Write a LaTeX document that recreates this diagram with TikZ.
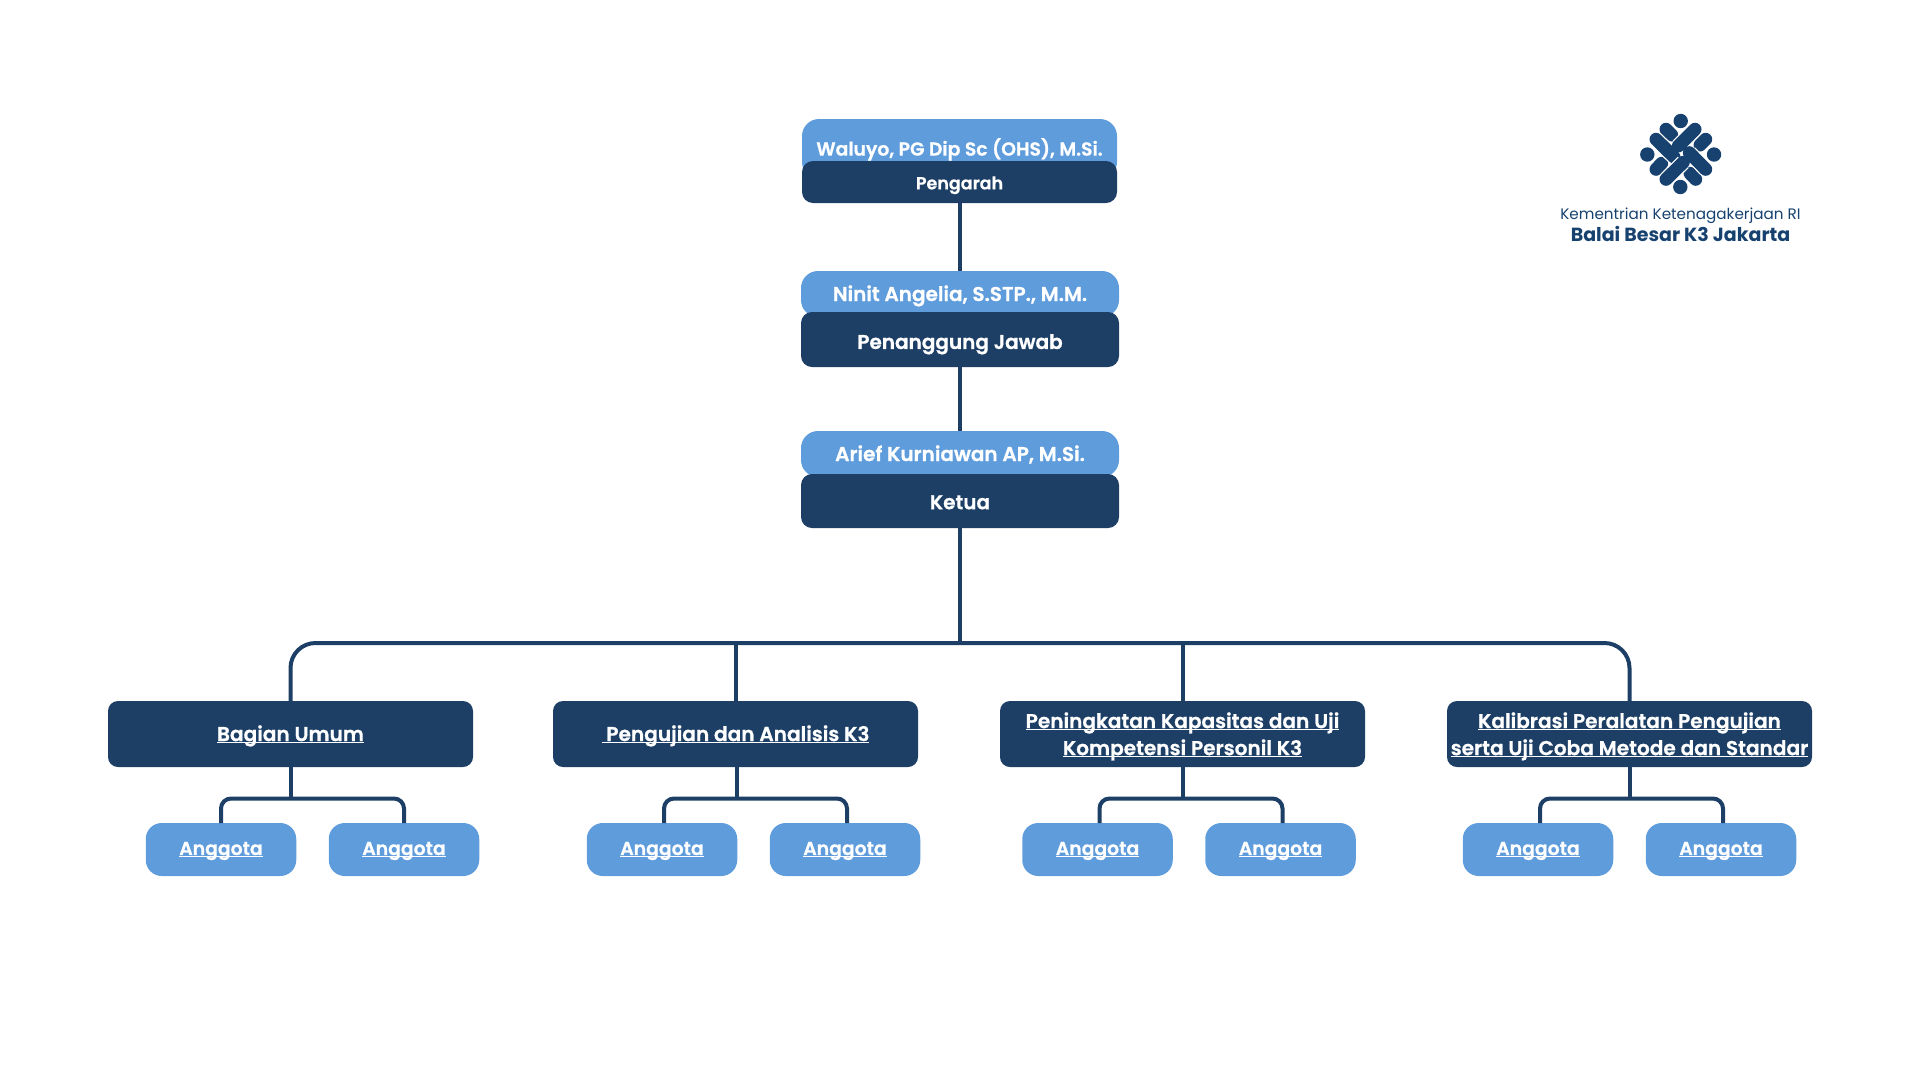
\documentclass[tikz,border=0pt]{standalone}
\usepackage{fontspec}
\setmainfont{Poppins}[BoldFont={Poppins SemiBold}, BoldFeatures={FakeBold=0.8}]
\newfontface\logobold{Poppins Bold}
\usepackage{xcolor}
\definecolor{navy-card}{HTML}{1D3F66}
\definecolor{sky-card}{HTML}{5F9CDC}
\definecolor{logo-blue}{HTML}{17426F}
\usepackage{tikz}
\usetikzlibrary{positioning}
\newcommand{\cardstrut}{\rule[-.28em]{0pt}{1.26em}}
\newcommand{\ul}[1]{\cardstrut\underline{\smash{#1}}}
\tikzset{namecard/.style = {fill=sky-card, text=white, rounded corners=17pt, align=center, text centered, outer sep=0pt, inner sep=0pt, execute at begin node=\cardstrut, font=\bfseries\fontsize{20}{24}\selectfont}}
\tikzset{rolecard/.style = {fill=navy-card, text=white, rounded corners=11pt, align=center, text centered, outer sep=0pt, inner sep=0pt, execute at begin node=\cardstrut, font=\bfseries\fontsize{20}{24}\selectfont}}
\tikzset{dept/.style = {rolecard, minimum width=365pt, minimum height=66pt, rounded corners=10pt, font=\bfseries\fontsize{20.1}{27}\selectfont}}
\tikzset{member/.style = {namecard, minimum width=150.5pt, minimum height=53pt, rounded corners=16pt, text depth=7.5pt, font=\bfseries\fontsize{18.8}{22}\selectfont}}
\tikzset{link/.style = {draw=navy-card, line width=4pt}}
\tikzset{logobar/.style = {draw=logo-blue, line width=13pt, line cap=round, preaction={draw=white, line width=15.5pt}}}

\begin{document}
\begin{tikzpicture}[x=1pt, y=-1pt, node distance = 32.5pt]
\useasboundingbox (0,0) rectangle (1920,1080);

\node[namecard, minimum width=315pt, minimum height=60pt, font=\bfseries\fontsize{18.8}{24}\selectfont] (waluyo) at (959.5,149) {Waluyo, PG Dip Sc (OHS), M.Si.};
\node[rolecard, minimum width=315pt, minimum height=42pt, below=-18pt of waluyo, font=\bfseries\fontsize{17.5}{22}\selectfont, text depth=2.5pt] (pengarah) {Pengarah};
\node[namecard, minimum width=318pt, minimum height=46pt, at={(960,294)}] (ninit) {Ninit Angelia, S.STP., M.M.};
\node[rolecard, minimum width=318pt, minimum height=55pt, below=-5pt of ninit, text height=24.5pt, text depth=5.6pt] (penanggung) {Penanggung Jawab};
\node[namecard, minimum width=318pt, minimum height=46pt, below=64pt of penanggung] (arief) {Arief Kurniawan AP, M.Si.};
\node[rolecard, minimum width=318pt, minimum height=54pt, below=-3pt of arief, text height=22pt, text depth=5.6pt] (ketua) {Ketua};

\node[dept] (umum) at (290.5,734) {\ul{Bagian Umum}};
\node[dept] (uji) at (735.5,734) {\ul{\ Pengujian dan Analisis K3}};
\node[dept, text depth=4.5pt] (kapasitas) at (1182.5,734) {\ul{Peningkatan Kapasitas dan Uji}\\\ul{Kompetensi Personil K3}};
\node[dept, text depth=4.5pt] (kalibrasi) at (1629.5,734) {\ul{Kalibrasi Peralatan Pengujian}\\\ul{serta Uji Coba Metode dan Standar}};

\node[member, below=56pt of umum, xshift=-69.5pt] (a1) {\ul{Anggota}};
\node[member, right=of a1] (a2) {\ul{Anggota}};
\node[member, below=56pt of uji, xshift=-73.5pt] (b1) {\ul{Anggota}};
\node[member, right=of b1] (b2) {\ul{Anggota}};
\node[member, below=56pt of kapasitas, xshift=-85pt] (c1) {\ul{Anggota}};
\node[member, right=of c1] (c2) {\ul{Anggota}};
\node[member, below=56pt of kalibrasi, xshift=-91.5pt] (d1) {\ul{Anggota}};
\node[member, right=of d1] (d2) {\ul{Anggota}};

\coordinate (bus) at (960,643);
\draw[link] (ninit |- pengarah.south) -- (ninit);
\draw[link] (penanggung) -- (arief);
\draw[link] (ketua) -- (bus);
\draw[link, rounded corners=25pt] (umum.north) -- (umum.north |- bus) -- (kalibrasi.north |- bus) -- (kalibrasi.north);
\draw[link] (uji.north) -- (uji.north |- bus);
\draw[link] (kapasitas.north) -- (kapasitas.north |- bus);

% each department with its two members, the forks sit a bit off the member centres
\foreach \dep/\left/\right/\stem/\nudge in {umum/a1/a2/0/0, uji/b1/b2/1.5/2, kapasitas/c1/c2/0/2, kalibrasi/d1/d2/0/2} {
  \coordinate (fork) at ([xshift=\stem pt, yshift=-31.5pt]\dep.south);
  \draw[link] ([xshift=\stem pt]\dep.south) -- (fork);
  \draw[link, rounded corners=10pt] ([xshift=\nudge pt]\left.north) -- ([xshift=\nudge pt]\left.north |- fork) -- ([xshift=\nudge pt]\right.north |- fork) -- ([xshift=\nudge pt]\right.north);
}

% logo
\fill[logo-blue] (1680.7,121) circle (7.2pt) (1647.3,154.5) circle (7.2pt) (1714,154.5) circle (7.2pt) (1680.3,187) circle (7.2pt);
\draw[logobar] (1666,129.3) -- (1671.7,135);
\draw[logobar] (1705.7,139.3) -- (1700,145);
\draw[logobar] (1656,169.3) -- (1661.7,163.3);
\draw[logobar] (1695.7,179.3) -- (1690,173.3);
\draw[logobar] (1656,139.3) -- (1674,157);
\draw[logobar] (1695,129.3) -- (1678.3,146);
\draw[logobar] (1705.7,169.3) -- (1689.3,152.7);
\draw[logobar] (1666,179.3) -- (1683.3,162.3);

\node[inner sep=0pt, text=logo-blue, font=\fontsize{15.2}{18}\selectfont] (ministry) at (1680.5,215.5) {Kementrian Ketenagakerjaan RI};
\node[inner sep=0pt, text=logo-blue, below=3pt of ministry, font=\logobold\fontsize{19}{22}\selectfont] (balai) {Balai Besar K3 Jakarta};

\end{tikzpicture}
\end{document}
